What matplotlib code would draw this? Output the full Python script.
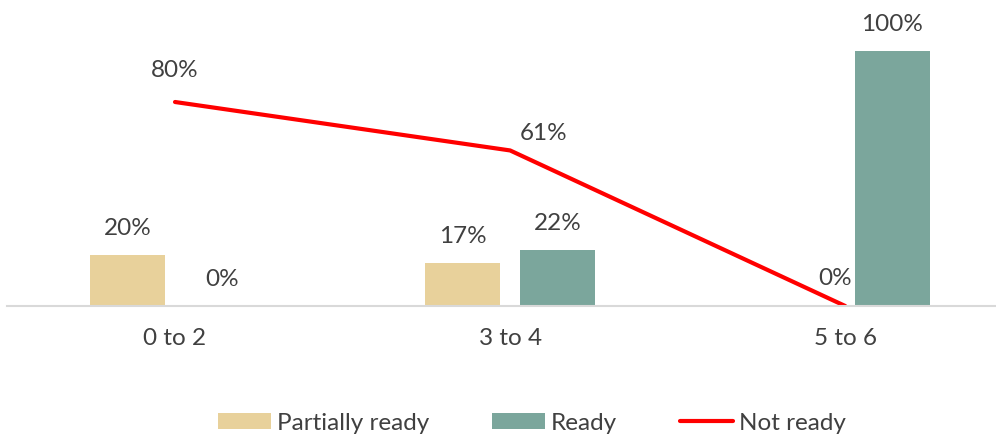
import numpy as np
import matplotlib.pyplot as plt

categories = ['0 to 2', '3 to 4', '5 to 6']
partially_ready = [20, 17, 0]
ready = [0, 22, 100]
not_ready = [80, 61, 0]

plt.rcParams['font.family'] = ['Lato', 'DejaVu Sans']
TXT = '#404040'
FS = 17.5

fig = plt.figure(figsize=(9.96, 4.37), dpi=100)
ax = fig.add_axes([0.0075, 0.2998, 0.9925, 0.7002])

x = np.arange(len(categories))
w = 0.224
off = 0.141
b1 = ax.bar(x - off, partially_ready, w, color='#E8D19B', label='Partially ready')
b2 = ax.bar(x + off, ready, w, color='#7BA69C', label='Ready')
ln, = ax.plot(x, not_ready, color='#FF0000', lw=3, solid_capstyle='round',
              label='Not ready')

# bar labels (skip the empty partially-ready bar at 5 to 6)
for bars, vals in [(b1, partially_ready), (b2, ready)]:
    for i, (rect, v) in enumerate(zip(bars, vals)):
        if bars is b1 and i == 2:
            continue
        ax.annotate(f'{v}%', (rect.get_x() + rect.get_width() / 2, v),
                    xytext=(0, 19), textcoords='offset points',
                    ha='center', va='center', fontsize=FS, color=TXT)

line_offsets = [(0, 23), (24, 12), (-7, 19.5)]
for xi, v, o in zip(x, not_ready, line_offsets):
    ax.annotate(f'{v}%', (xi, v), xytext=o, textcoords='offset points',
                ha='center', va='center', fontsize=FS, color=TXT)

ax.set_xlim(-0.5, 2.45)
ax.set_ylim(0, 120)
ax.set_xticks(x)
ax.set_xticklabels(categories, fontsize=FS, color=TXT)
ax.tick_params(axis='x', length=0, pad=16)
ax.set_yticks([])
for s in ['top', 'right', 'left']:
    ax.spines[s].set_visible(False)
ax.spines['bottom'].set_color('#D9D9D9')
ax.spines['bottom'].set_linewidth(1.5)

fig.legend(handles=[b1, b2, ln], loc='center', bbox_to_anchor=(0.534, 0.032),
           ncol=3, frameon=False, fontsize=FS, labelcolor=TXT,
           handlelength=2.16, handletextpad=0.25, columnspacing=2.6,
           handleheight=0.68)

fig.savefig('out.png', dpi=100)
